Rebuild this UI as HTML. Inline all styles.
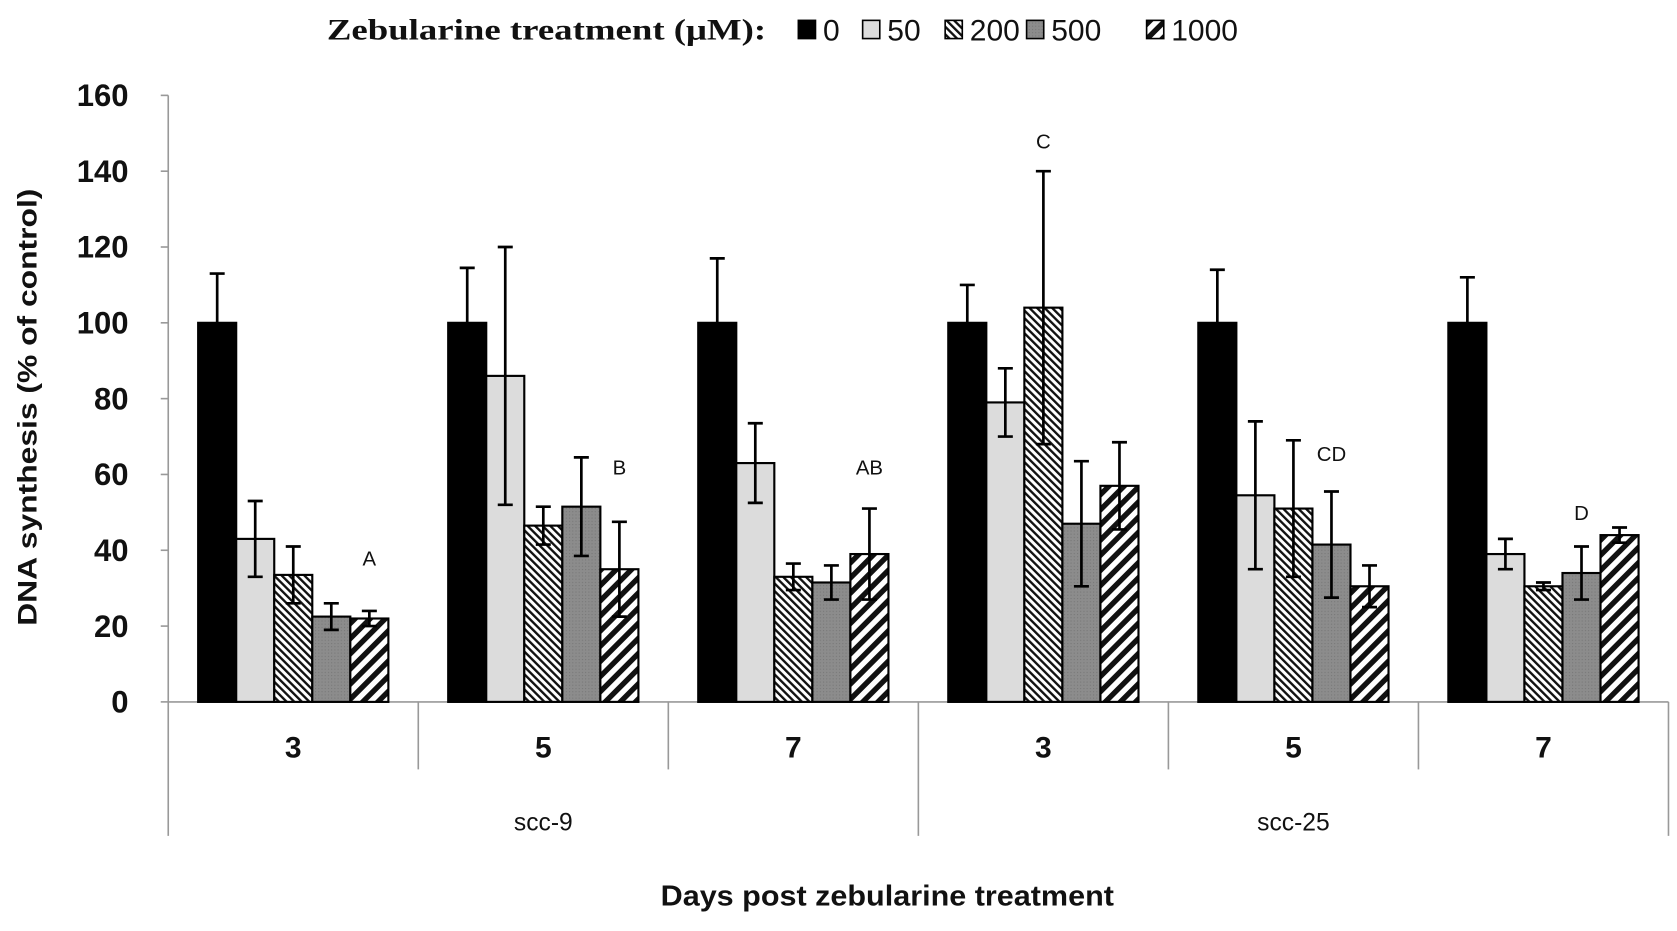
<!DOCTYPE html>
<html><head><meta charset="utf-8"><style>
body{margin:0;background:#fff;width:1677px;height:926px;overflow:hidden}
</style></head><body>
<svg id="chart" width="1677" height="926">
<defs>
<pattern id="p200" patternUnits="userSpaceOnUse" width="5" height="5" patternTransform="rotate(-45)"><rect width="5" height="5" fill="#fff"/><rect width="2.2" height="5" fill="#111"/></pattern>
<pattern id="p500" patternUnits="userSpaceOnUse" width="3" height="3"><rect width="3" height="3" fill="#8c8c8c"/><rect width="1" height="1" fill="#777"/></pattern>
<pattern id="p1000" patternUnits="userSpaceOnUse" width="10" height="10" patternTransform="rotate(45)"><rect width="10" height="10" fill="#fff"/><rect width="5" height="10" fill="#111"/></pattern>
</defs>
<g id="plot" transform="scale(1.0716)" style="font-family:'Liberation Sans',sans-serif"></g>
</svg>
<script>
const groups=["3","5","7","3","5","7"];
const cellLines=["scc-9","scc-25"];
const series=["0","50","200","500","1000"];
const v0=[100,100,100,100,100,100];
const v50=[43,86,63,79,54.5,39];
const v200=[33.5,46.5,33,104,51,30.5];
const v500=[22.5,51.5,31.5,47,41.5,34];
const v1000=[22,35,39,57,30.5,44];
const e0=[13,14.5,17,10,14,12];
const e50=[10,34,10.5,9,19.5,4];
const e200=[7.5,5,3.5,36,18,1];
const e500=[3.5,13,4.5,16.5,14,7];
const e1000=[2,12.5,12,11.5,5.5,2];
const sigLabels=["A","B","AB","C","CD","D"];
const sigSeries=[4,4,4,2,3,3];
const sigValues=[36,60,60,146,63.5,48];
const yTicks=[0,20,40,60,80,100,120,140,160];

const vals=[v0,v50,v200,v500,v1000], errs=[e0,e50,e200,e500,e1000];
const fills=["#000","#dcdcdc","url(#p200)","url(#p500)","url(#p1000)"];
const X0=157,X1=1557,Y0=655,Y1=89,yMax=160;
const gw=(X1-X0)/groups.length, bw=35.5, pad=(gw-bw*5)/2;
const y=v=>Y0-(v/yMax)*(Y0-Y1);
const bx=(g,s)=>X0+g*gw+pad+s*bw;
const svg=document.getElementById('plot');
const NS="http://www.w3.org/2000/svg";
function mk(t,a,txt){const e=document.createElementNS(NS,t);for(const k in a)e.setAttribute(k,a[k]);if(txt!=null)e.textContent=txt;svg.appendChild(e);return e;}

yTicks.forEach(t=>{
 const tk=mk('line',{x1:X0-7,x2:X0,y1:y(t),y2:y(t),stroke:'#999','stroke-width':1.5});
 
 
 const l=mk('text',{x:120,y:y(t)+10,'text-anchor':'end','font-size':29,'font-weight':'bold',fill:'#111'},t);
 
 
});
const ya=mk('line',{x1:X0,x2:X0,y1:Y1,y2:780,stroke:'#999','stroke-width':1.5});


const xa=mk('line',{x1:X0,x2:X1,y1:Y0,y2:Y0,stroke:'#999','stroke-width':1.5});


for(let g=1;g<=groups.length;g++){
 const xx=X0+g*gw, full=(g%3===0);
 const s=mk('line',{x1:xx,x2:xx,y1:Y0,y2:full?780:718,stroke:'#999','stroke-width':1.5});
 
 
}
groups.forEach((g,i)=>{
 const t=mk('text',{x:X0+(i+0.5)*gw,y:707,'text-anchor':'middle','font-size':28,'font-weight':'bold',fill:'#111'},g);
 
 
});
cellLines.forEach((c,i)=>{
 const t=mk('text',{x:X0+(i*3+1.5)*gw,y:775,'text-anchor':'middle','font-size':23,fill:'#111'},c);
 
 
});
groups.forEach((g,gi)=>{
 series.forEach((s,si)=>{
  const v=vals[si][gi], e=errs[si][gi], x=bx(gi,si);
  const r=mk('rect',{x:x,y:y(v),width:bw,height:Y0-y(v),fill:fills[si],stroke:'#000','stroke-width':2});
  
  
  const cx=x+bw/2;
  const eb=mk('path',{d:`M${cx},${y(v+e)}V${y(v-e)}M${cx-7},${y(v+e)}H${cx+7}M${cx-7},${y(v-e)}H${cx+7}`,stroke:'#000','stroke-width':2.5,fill:'none'});
  
  
 });
 const sx=bx(gi,sigSeries[gi])+bw/2;
 const sl=mk('text',{x:sx,y:y(sigValues[gi]),'text-anchor':'middle','font-size':19,fill:'#111'},sigLabels[gi]);
 
 
});
const yt=mk('text',{transform:'translate(34,380) rotate(-90)','text-anchor':'middle','font-size':25,'font-weight':'bold',fill:'#111',textLength:408,lengthAdjust:'spacingAndGlyphs'},'DNA synthesis  (% of control)');


const xt=mk('text',{x:828,y:845,'text-anchor':'middle','font-size':27,'font-weight':'bold',fill:'#111',textLength:423,lengthAdjust:'spacingAndGlyphs'},'Days post zebularine treatment');


const lt=mk('text',{x:305,y:37,'font-size':28,'font-weight':'bold',fill:'#111',style:'font-family:"Liberation Serif",serif',textLength:410,lengthAdjust:'spacingAndGlyphs'},'Zebularine treatment (μM):');


const lx=[745,805,882,958,1070];
series.forEach((s,i)=>{
 const b=mk('rect',{x:lx[i],y:19,width:16,height:17,fill:fills[i],stroke:'#000','stroke-width':1.5});
 
 
 const t=mk('text',{x:lx[i]+23,y:38,'font-size':28,fill:'#111'},s);
 
 
});
</script>
</body></html>
